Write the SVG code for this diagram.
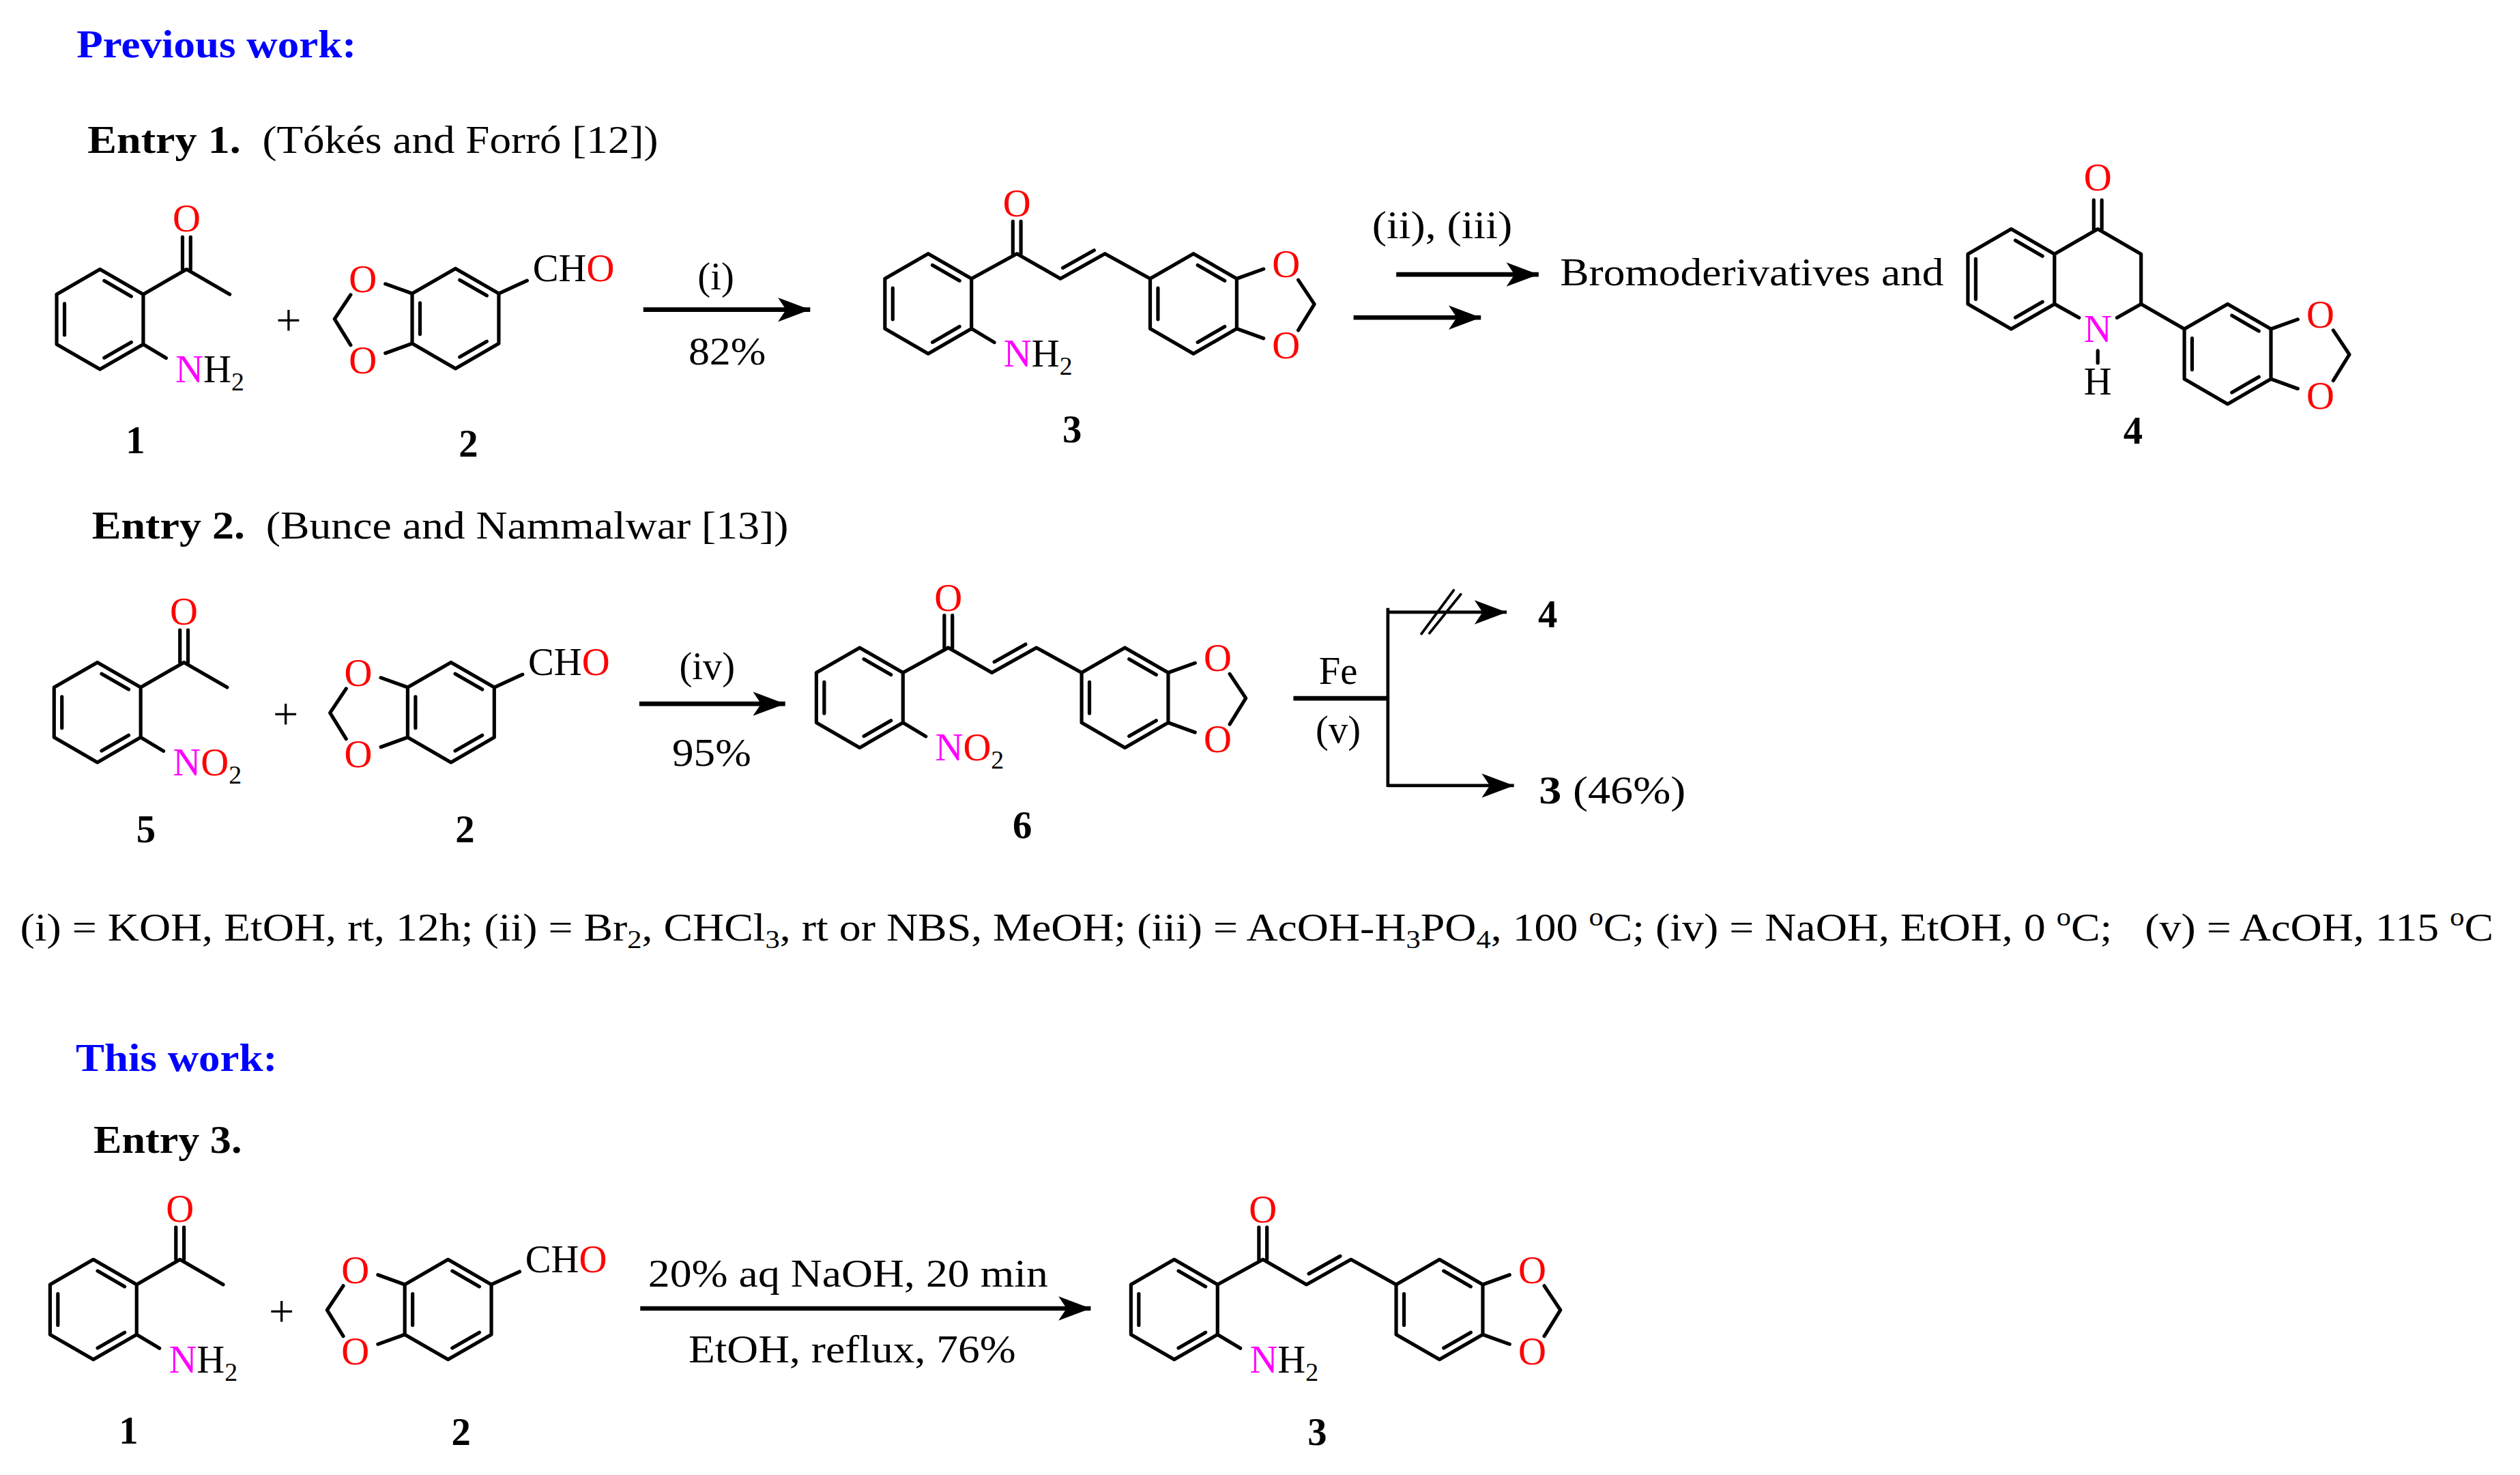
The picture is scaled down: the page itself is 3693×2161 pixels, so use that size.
<svg xmlns="http://www.w3.org/2000/svg" xmlns:xlink="http://www.w3.org/1999/xlink" width="3693" height="2161" viewBox="0 0 3693 2161">
<style>
.b{fill:none;stroke:#000;stroke-width:2.2;stroke-linecap:round;stroke-linejoin:round}
.ar{fill:none;stroke:#000;stroke-width:2.8}
text{font-family:"Liberation Serif","Times New Roman",serif;font-size:24px;fill:#000}
.r{fill:#ff0000}.m{fill:#ff00ff}.bd{font-weight:bold}.c{text-anchor:middle}.bl{fill:#0000ff;font-weight:bold}
.s{font-size:16px}.pl{font-size:28px}
</style>
<defs>
<marker id="ah" markerUnits="userSpaceOnUse" markerWidth="24" markerHeight="20" refX="0" refY="0" viewBox="-20 -10 22 20" orient="auto" overflow="visible"><path d="M0,0 L-20,-7.5 L-15,0 L-20,7.5 Z" fill="#000"/></marker>
<g id="ring"><path class="b" d="M0,-31 L26.85,-15.5 L26.85,15.5 L0,31 L-26.85,15.5 L-26.85,-15.5 Z M2.64,-23.9 L19.4,-14.2 M19.4,14.2 L2.64,23.9 M-22,-9.7 L-22,9.7"/></g>
<g id="acph"><use xlink:href="#ring"/><path class="b" d="M26.85,-15.5 L53.7,-31 L80.5,-15.5 M51.2,-31 L51.2,-51 M56.2,-31 L56.2,-51 M26.85,15.5 L41,24"/></g>
<g id="diox"><use xlink:href="#ring"/><path class="b" d="M-26.85,-15.5 L-43.5,-21.5 M-26.85,15.5 L-43.5,21.5 M-65,-14.7 L-75,0.3 L-65,16.5 M26.85,-15.5 L44.4,-23.5"/></g>
<g id="chal"><use xlink:href="#ring"/><use xlink:href="#ring" x="164.5"/><path class="b" d="M26.85,-15.5 L55,-31 L82,-15.5 L109.6,-31 L137.65,-15.5 M52.5,-31 L52.5,-51 M57.5,-31 L57.5,-51 M83.5,-22.2 L102.9,-33.1 M191.35,-15.5 L208,-21.5 M191.35,15.5 L208,21.5 M229.5,-14.7 L239.5,0.3 L229.5,16.5 M26.85,15.5 L41,24"/></g>
</defs>
<rect width="3693" height="2161" fill="#fff"/>
<g transform="scale(2.3628)">
<g id="headings">
<text class="bl" x="47.5" y="35.4" textLength="173.5" lengthAdjust="spacingAndGlyphs">Previous work:</text>
<text class="bd" x="54.3" y="95" textLength="95" lengthAdjust="spacingAndGlyphs">Entry 1.</text>
<text x="162.7" y="95" textLength="245.5" lengthAdjust="spacingAndGlyphs">(Tókés and Forró [12])</text>
<text class="bd" x="57" y="334" textLength="95" lengthAdjust="spacingAndGlyphs">Entry 2.</text>
<text x="165" y="334" textLength="324" lengthAdjust="spacingAndGlyphs">(Bunce and Nammalwar [13])</text>
<text x="12.5" y="583" textLength="1534" lengthAdjust="spacingAndGlyphs" xml:space="preserve">(i) = KOH, EtOH, rt, 12h; (ii) = Br<tspan class="s" dy="5">2</tspan><tspan dy="-5">, CHCl</tspan><tspan class="s" dy="5">3</tspan><tspan dy="-5">, rt or NBS, MeOH; (iii) = AcOH-H</tspan><tspan class="s" dy="5">3</tspan><tspan dy="-5">PO</tspan><tspan class="s" dy="5">4</tspan><tspan dy="-5">, 100 </tspan><tspan class="s" dy="-9">o</tspan><tspan dy="9">C; (iv) = NaOH, EtOH, 0 </tspan><tspan class="s" dy="-9">o</tspan><tspan dy="9">C;   (v) = AcOH, 115 </tspan><tspan class="s" dy="-9">o</tspan><tspan dy="9">C</tspan></text>
<text class="bl" x="47" y="664" textLength="125" lengthAdjust="spacingAndGlyphs">This work:</text>
<text class="bd" x="58" y="715" textLength="92" lengthAdjust="spacingAndGlyphs">Entry 3.</text>
</g>
<g id="cmp1a" transform="translate(62,198)"><use xlink:href="#acph"/>
<text class="r c" x="53.7" y="-54.5">O</text><text x="46.8" y="39"><tspan class="m">N</tspan>H<tspan class="s" dy="5">2</tspan></text>
<text class="bd c" x="22" y="83">1</text></g>
<g id="plus1"><text class="c pl" x="179" y="208">+</text></g>
<g id="cmp2a" transform="translate(282.5,197.5)"><use xlink:href="#diox"/>
<text class="r c" x="-57.5" y="-16.5">O</text><text class="r c" x="-57.5" y="34">O</text>
<text x="47.9" y="-23">CH<tspan class="r">O</tspan></text>
<text class="bd c" x="8" y="85.5">2</text></g>
<g id="cmp3a" transform="translate(575.7,188.3)"><use xlink:href="#chal"/>
<text class="r c" x="55" y="-54">O</text><text class="r c" x="222" y="-16.5">O</text><text class="r c" x="222" y="34">O</text>
<text x="46.8" y="39"><tspan class="m">N</tspan>H<tspan class="s" dy="5">2</tspan></text>
<text class="bd c" x="89.3" y="86">3</text></g>
<g id="prod1"><text x="967.6" y="176.8" textLength="238" lengthAdjust="spacingAndGlyphs">Bromoderivatives and</text></g>
<g id="cmp4">
<path class="b" d="M1247.4,142 L1274.25,157.5 L1274.25,188.5 L1247.4,204 L1220.55,188.5 L1220.55,157.5 Z M1250,149.1 L1266.8,158.8 M1266.8,187.2 L1250,196.9 M1225.4,160.5 L1225.4,185.5 M1274.25,157.5 L1301.1,142 L1327.95,157.5 L1327.95,188.5 L1313,197 M1274.25,188.5 L1289.5,197 M1298.6,142 L1298.6,124 M1303.6,142 L1303.6,124 M1301.1,217.5 L1301.1,225 M1327.95,188.5 L1354.8,204"/>
<path class="b" d="M1381.65,188.5 L1408.5,204 L1408.5,235 L1381.65,250.5 L1354.8,235 L1354.8,204 Z M1384.3,195.6 L1401,205.3 M1401,233.7 L1384.3,243.4 M1359.6,209.8 L1359.6,229.2 M1408.5,204 L1425.15,198 M1408.5,235 L1425.15,241 M1447.15,204.8 L1457.15,219.8 L1447.15,236"/>
<text class="r c" x="1301.1" y="118">O</text><text class="m c" x="1301.1" y="212">N</text><text class="c" x="1301.1" y="244.5">H</text>
<text class="r c" x="1439.15" y="203">O</text><text class="r c" x="1439.15" y="253.5">O</text>
<text class="bd c" x="1323" y="275">4</text></g>
<g id="cmp5" transform="translate(60.4,441.7)"><use xlink:href="#acph"/>
<text class="r c" x="53.7" y="-54.5">O</text><text x="46.8" y="39"><tspan class="m">N</tspan><tspan class="r">O</tspan><tspan class="s" dy="5">2</tspan></text>
<text class="bd c" x="30.1" y="80.5">5</text></g>
<g id="plus2"><text class="c pl" x="177.2" y="452">+</text></g>
<g id="cmp2b" transform="translate(279.7,441.7)"><use xlink:href="#diox"/>
<text class="r c" x="-57.5" y="-16.5">O</text><text class="r c" x="-57.5" y="34">O</text>
<text x="47.9" y="-23">CH<tspan class="r">O</tspan></text>
<text class="bd c" x="8.7" y="80.5">2</text></g>
<g id="cmp6" transform="translate(533.2,432.6)"><use xlink:href="#chal"/>
<text class="r c" x="55" y="-54">O</text><text class="r c" x="222" y="-16.5">O</text><text class="r c" x="222" y="34">O</text>
<text x="46.8" y="39"><tspan class="m">N</tspan><tspan class="r">O</tspan><tspan class="s" dy="5">2</tspan></text>
<text class="bd c" x="100.9" y="87">6</text></g>
<g id="cmp1b" transform="translate(57.9,812)"><use xlink:href="#acph"/>
<text class="r c" x="53.7" y="-54.5">O</text><text x="46.8" y="39"><tspan class="m">N</tspan>H<tspan class="s" dy="5">2</tspan></text>
<text class="bd c" x="21.8" y="83">1</text></g>
<g id="plus3"><text class="c pl" x="174.7" y="822.5">+</text></g>
<g id="cmp2c" transform="translate(277.9,812)"><use xlink:href="#diox"/>
<text class="r c" x="-57.5" y="-16.5">O</text><text class="r c" x="-57.5" y="34">O</text>
<text x="47.9" y="-23">CH<tspan class="r">O</tspan></text>
<text class="bd c" x="8.1" y="84">2</text></g>
<g id="cmp3b" transform="translate(728.3,812)"><use xlink:href="#chal"/>
<text class="r c" x="55" y="-54">O</text><text class="r c" x="222" y="-16.5">O</text><text class="r c" x="222" y="34">O</text>
<text x="46.8" y="39"><tspan class="m">N</tspan>H<tspan class="s" dy="5">2</tspan></text>
<text class="bd c" x="88.7" y="84">3</text></g>
<g id="connectors">
<line class="ar" x1="399" y1="192" x2="502.5" y2="192" marker-end="url(#ah)"/>
<line class="ar" x1="866" y1="170.2" x2="954.3" y2="170.2" marker-end="url(#ah)"/>
<line class="ar" x1="839.5" y1="196.9" x2="918.5" y2="196.9" marker-end="url(#ah)"/>
<line class="ar" x1="396.5" y1="436.4" x2="487" y2="436.4" marker-end="url(#ah)"/>
<line class="ar" x1="802.2" y1="433" x2="860.8" y2="433"/>
<line class="ar" x1="860.8" y1="377" x2="860.8" y2="488" style="stroke-width:2"/>
<line class="ar" x1="860.8" y1="379.6" x2="934.5" y2="379.6" marker-end="url(#ah)" style="stroke-width:2"/>
<line class="ar" x1="860.8" y1="487.1" x2="939" y2="487.1" marker-end="url(#ah)" style="stroke-width:2"/>
<path class="b" d="M881.6,393 L901.6,366 M886.6,392.6 L906,368.5" style="stroke-width:1.6"/>
<line class="ar" x1="397.1" y1="811.3" x2="676.5" y2="811.3" marker-end="url(#ah)"/>
</g>
<g id="labels">
<text class="c" x="444" y="179.5">(i)</text><text class="c" x="451" y="226" textLength="48" lengthAdjust="spacingAndGlyphs">82%</text>
<text x="851" y="147.7" textLength="87" lengthAdjust="spacingAndGlyphs">(ii), (iii)</text>
<text class="c" x="438.6" y="421">(iv)</text><text class="c" x="441.4" y="475" textLength="49" lengthAdjust="spacingAndGlyphs">95%</text>
<text class="c" x="830" y="424">Fe</text><text class="c" x="830" y="460.5">(v)</text>
<text class="bd" x="954" y="389">4</text>
<text x="954.5" y="498" textLength="91" lengthAdjust="spacingAndGlyphs" xml:space="preserve"><tspan class="bd">3</tspan> (46%)</text>
<text x="402" y="797.6" textLength="248" lengthAdjust="spacingAndGlyphs">20% aq NaOH, 20 min</text>
<text x="427" y="844.6" textLength="203" lengthAdjust="spacingAndGlyphs">EtOH, reflux, 76%</text>
</g>
</g>
</svg>
